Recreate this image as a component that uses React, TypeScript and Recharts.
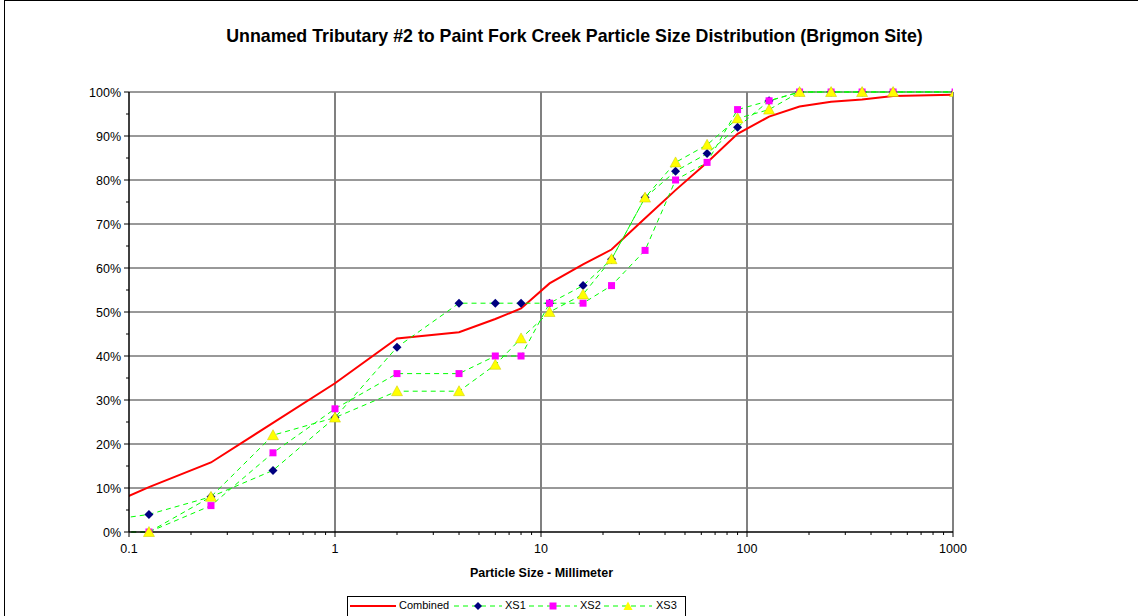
import React from "react";
import { LineChart, Line, XAxis, YAxis, CartesianGrid } from "recharts";

const TITLE = "Unnamed Tributary #2 to Paint Fork Creek Particle Size Distribution (Brigmon Site)";
const X_LABEL = "Particle Size - Millimeter";
const FONT = "'Liberation Sans', Arial, sans-serif";

// sieve sizes (mm) used by the cross-section counts
const xsSizes = [0.062, 0.125, 0.25, 0.5, 1, 2, 4, 6, 8, 11, 16, 22, 32, 45, 64, 90, 128, 180, 256, 362, 512, 1024];
const combinedSizes = [0.062, 0.125, 0.25, 0.5, 1, 2, 4, 6, 8, 11, 16, 22, 32, 45, 64, 90, 128, 180, 256, 362, 512, 1024, 2048];

// cumulative percent finer
const combinedPct = [4, 10.2, 15.8, 24.8, 33.8, 44, 45.4, 48.4, 50.8, 56.5, 60.8, 64.2, 71.3, 77.7, 84, 90.5, 94.4, 96.7, 97.8, 98.3, 99.1, 99.4, 99.6];
const xs1Pct = [2, 4, 8, 14, 26, 42, 52, 52, 52, 52, 56, 62, 76, 82, 86, 92, 98, 100, 100, 100, 100, 100];
const xs2Pct = [0, 0, 6, 18, 28, 36, 36, 40, 40, 52, 52, 56, 64, 80, 84, 96, 98, 100, 100, 100, 100, 100];
const xs3Pct = [0, 0, 8, 22, 26, 32, 32, 38, 44, 50, 54, 62, 76, 84, 88, 94, 96, 100, 100, 100, 100, 100];

const xMajorTicks = [0.1, 1, 10, 100, 1000];
const xMinorSteps = [2, 3, 4, 5, 6, 7, 8, 9];
const yTicks = [0, 5, 10, 15, 20, 25, 30, 35, 40, 45, 50, 55, 60, 65, 70, 75, 80, 85, 90, 95, 100];
const yGrid = [10, 20, 30, 40, 50, 60, 70, 80, 90, 100];
const xGrid = [1, 10, 100, 1000];

const xTicks = [
    ...xMajorTicks,
    ...xMajorTicks.slice(0, -1).flatMap((d) => xMinorSteps.map((s) => d * s)),
].sort((a, b) => a - b);

const toRows = (sizes: number[], pct: number[]) => sizes.map((size, i) => ({ size, pct: pct[i] }));

const combinedRows = toRows(combinedSizes, combinedPct);
const xs1Rows = toRows(xsSizes, xs1Pct);
const xs2Rows = toRows(xsSizes, xs2Pct);
const xs3Rows = toRows(xsSizes, xs3Pct);

const GREEN = "#00ff00";
const DASH = "5 4";

const XTick = (props: any) => {
    const { x, y, payload } = props;
    const major = xMajorTicks.includes(payload.value);
    return (
        <g>
            <line x1={x} x2={x} y1={y} y2={y + (major ? 5 : 3)} stroke="#000" />
            {major && (
                <text x={x} y={y + 21} textAnchor="middle" fontSize={12.5} fontFamily={FONT} fill="#000">
                    {payload.value}
                </text>
            )}
        </g>
    );
};

const YTick = (props: any) => {
    const { x, y, payload } = props;
    const major = payload.value % 10 === 0;
    return (
        <g>
            <line x1={x - (major ? 5 : 3)} x2={x} y1={y} y2={y} stroke="#000" />
            {major && (
                <text x={x - 8} y={y + 4.5} textAnchor="end" fontSize={12.5} fontFamily={FONT} fill="#000">
                    {payload.value}%
                </text>
            )}
        </g>
    );
};

const Diamond = (p: any) => {
    const { cx, cy, key } = p;
    if (cx == null || cy == null) return <g key={key} />;
    const r = 4.5;
    return <polygon key={key} points={`${cx},${cy - r} ${cx + r},${cy} ${cx},${cy + r} ${cx - r},${cy}`} fill="#000080" />;
};

const Square = (p: any) => {
    const { cx, cy, key } = p;
    if (cx == null || cy == null) return <g key={key} />;
    return <rect key={key} x={cx - 3.5} y={cy - 3.5} width={7} height={7} fill="#ff00ff" />;
};

const Triangle = (p: any) => {
    const { cx, cy, key } = p;
    if (cx == null || cy == null) return <g key={key} />;
    return (
        <polygon
            key={key}
            points={`${cx},${cy - 5.5} ${cx + 5.5},${cy + 4.5} ${cx - 5.5},${cy + 4.5}`}
            fill="#ffff00"
            stroke="#c8c800"
            strokeWidth={0.5}
        />
    );
};

// legend layout: sample start, sample width, label start
const legendItems = [
    { label: "Combined", solid: true, left: 350, w: 46, textLeft: 399 },
    { label: "XS1", marker: "diamond", left: 454, w: 48, textLeft: 505 },
    { label: "XS2", marker: "square", left: 529, w: 48, textLeft: 580 },
    { label: "XS3", marker: "triangle", left: 604, w: 48, textLeft: 656 },
];

const LegendSample = ({ marker, solid, w }: { marker?: string; solid?: boolean; w: number }) => {
    const m = w / 2;
    return (
        <svg width={w} height={12} style={{ display: "block" }}>
            {solid ? (
                <line x1={0} x2={w} y1={6} y2={6} stroke="#ff0000" strokeWidth={2} />
            ) : (
                <line x1={0} x2={w} y1={6} y2={6} stroke={GREEN} strokeDasharray={DASH} />
            )}
            {marker === "diamond" && <polygon points={`${m},2 ${m + 4},6 ${m},10 ${m - 4},6`} fill="#000080" />}
            {marker === "square" && <rect x={m - 3.5} y={2.5} width={7} height={7} fill="#ff00ff" />}
            {marker === "triangle" && <polygon points={`${m},1.5 ${m + 4.5},10 ${m - 4.5},10`} fill="#ffff00" />}
        </svg>
    );
};

export default function App() {
    return (
        <div style={{ position: "absolute", left: 0, top: 0, width: 1138, height: 616, background: "#fff", overflow: "hidden", fontFamily: FONT }}>
            <div style={{ position: "absolute", left: 4, top: 0, width: 1134, height: 616, borderTop: "1px solid #000", borderLeft: "1px solid #000" }} />
            <div
                style={{
                    position: "absolute",
                    left: 0,
                    top: 26,
                    width: 1149,
                    textAlign: "center",
                    fontSize: 17.8,
                    fontWeight: 700,
                    lineHeight: "20px",
                    color: "#000",
                }}
            >
                {TITLE}
            </div>
            <div style={{ position: "absolute", top: 0, left: 0 }}>
                <LineChart width={1138} height={616} margin={{ top: 92, right: 185, bottom: 54, left: 0 }}>
                    <CartesianGrid horizontal={true} vertical={false} horizontalValues={yGrid} stroke="#333" strokeWidth={1} />
                    <CartesianGrid horizontal={false} vertical={true} verticalValues={xGrid} stroke="#808080" strokeWidth={2} />
                    <XAxis
                        dataKey="size"
                        type="number"
                        scale="log"
                        domain={[0.1, 1000]}
                        allowDataOverflow
                        ticks={xTicks}
                        interval={0}
                        tickSize={0}
                        tickMargin={0}
                        tick={<XTick />}
                        height={30}
                        axisLine={{ stroke: "#000", strokeWidth: 1.5 }}
                    />
                    <YAxis
                        type="number"
                        domain={[0, 100]}
                        ticks={yTicks}
                        interval={0}
                        tickSize={0}
                        tickMargin={0}
                        tick={<YTick />}
                        width={129}
                        axisLine={{ stroke: "#000", strokeWidth: 1.5 }}
                    />
                    <Line
                        data={combinedRows}
                        dataKey="pct"
                        type="linear"
                        stroke="#ff0000"
                        strokeWidth={2}
                        dot={false}
                        activeDot={false}
                        isAnimationActive={false}
                    />
                    <Line
                        data={xs1Rows}
                        dataKey="pct"
                        type="linear"
                        stroke={GREEN}
                        strokeWidth={1}
                        strokeDasharray={DASH}
                        dot={Diamond}
                        activeDot={false}
                        isAnimationActive={false}
                    />
                    <Line
                        data={xs2Rows}
                        dataKey="pct"
                        type="linear"
                        stroke={GREEN}
                        strokeWidth={1}
                        strokeDasharray={DASH}
                        dot={Square}
                        activeDot={false}
                        isAnimationActive={false}
                    />
                    <Line
                        data={xs3Rows}
                        dataKey="pct"
                        type="linear"
                        stroke={GREEN}
                        strokeWidth={1}
                        strokeDasharray={DASH}
                        dot={Triangle}
                        activeDot={false}
                        isAnimationActive={false}
                    />
                </LineChart>
            </div>
            <div
                style={{
                    position: "absolute",
                    left: 0,
                    top: 566,
                    width: 1083,
                    textAlign: "center",
                    fontSize: 12.5,
                    fontWeight: 700,
                    lineHeight: "14px",
                    color: "#000",
                }}
            >
                {X_LABEL}
            </div>
            <div
                style={{
                    position: "absolute",
                    left: 347,
                    top: 596,
                    width: 339,
                    height: 24,
                    border: "1px solid #000",
                    boxSizing: "border-box",
                }}
            />
            {legendItems.map((it) => (
                <React.Fragment key={it.label}>
                    <div style={{ position: "absolute", left: it.left, top: 600 }}>
                        <LegendSample marker={it.marker} solid={it.solid} w={it.w} />
                    </div>
                    <div style={{ position: "absolute", left: it.textLeft, top: 599, fontSize: 11, lineHeight: "13px", whiteSpace: "nowrap" }}>
                        {it.label}
                    </div>
                </React.Fragment>
            ))}
        </div>
    );
}
